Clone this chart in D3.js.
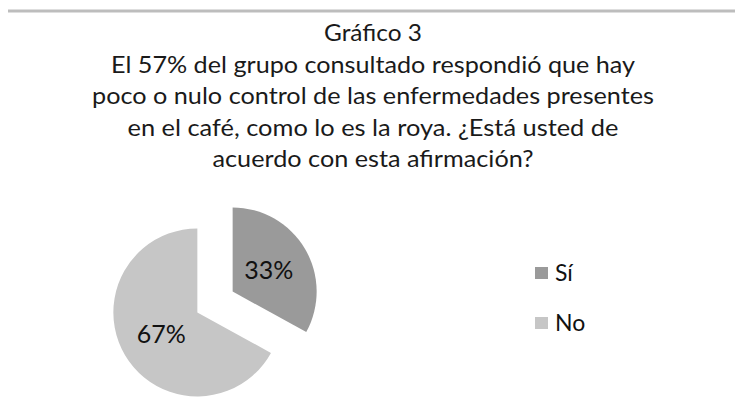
<!DOCTYPE html>
<html><head><meta charset="utf-8">
<script src="https://cdn.jsdelivr.net/npm/d3@7"></script>
<style>body{margin:0;background:#fff}</style>
</head><body>
<script>
const categories = ["Sí", "No"];
const values = [33, 67];
const colors = ["#9a9a9a", "#c6c6c6"];
const titleLines = ["Gráfico 3",
  "El 57% del grupo consultado respondió que hay",
  "poco o nulo control de las enfermedades presentes",
  "en el café, como lo es la roya. ¿Está usted de",
  "acuerdo con esta afirmación?"];

const W = 735, H = 410;
const svg = d3.select("body").append("svg").attr("width", W).attr("height", H);
const font = "Lato, 'Open Sans', sans-serif";

svg.append("line").attr("x1", 8).attr("x2", W).attr("y1", 11).attr("y2", 11)
  .attr("stroke", "#bdbdbd").attr("stroke-width", 3);

const lineWidths = [98, 524, 562, 491, 321];
svg.append("g").selectAll("text").data(titleLines).join("text")
  .attr("x", 373).attr("y", (d, i) => 41 + i * 31.5)
  .attr("text-anchor", "middle").attr("font-family", font).attr("font-size", 23.5)
  .attr("textLength", (d, i) => lineWidths[i]).attr("lengthAdjust", "spacingAndGlyphs")
  .attr("fill", "#1a1a1a").text(d => d);

const cx = 215, cy = 302, r = 84, explode = 20.5;
const pie = d3.pie().sort(null).value(d => d)(values);
const arc = d3.arc().innerRadius(0).outerRadius(r);
const g = svg.append("g").attr("transform", `translate(${cx},${cy})`);
const slice = g.selectAll("g").data(pie).join("g")
  .attr("transform", d => {
    const a = (d.startAngle + d.endAngle) / 2;
    return `translate(${Math.sin(a) * explode},${-Math.cos(a) * explode})`;
  });
slice.append("path").attr("d", arc).attr("fill", (d, i) => colors[i]);
slice.append("text")
  .attr("transform", d => `translate(${arc.centroid(d)})`)
  .attr("text-anchor", "middle").attr("dy", "0.35em")
  .attr("font-family", font).attr("font-size", 25).attr("fill", "#111")
  .text(d => d.data + "%");

const leg = svg.append("g").selectAll("g").data(categories).join("g")
  .attr("transform", (d, i) => `translate(535,${267 + i * 50})`);
leg.append("rect").attr("width", 13).attr("height", 12).attr("fill", (d, i) => colors[i]);
leg.append("text").attr("x", 20).attr("y", 6).attr("dy", "0.35em")
  .attr("font-family", font).attr("font-size", 23).attr("fill", "#111").text(d => d);
</script>
</body></html>
